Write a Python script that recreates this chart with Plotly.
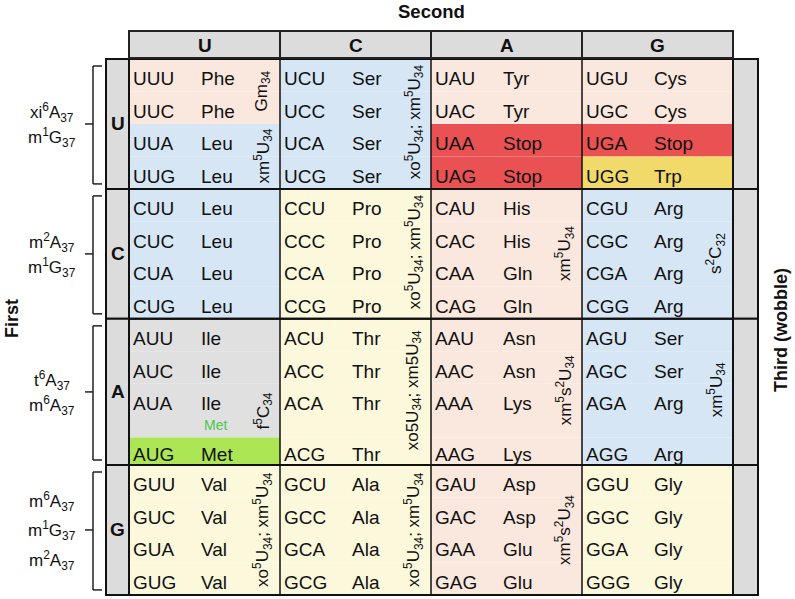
import plotly.graph_objects as go

# ---------------- data ----------------
BASES = ["U", "C", "A", "G"]

# amino acids: AMINO[first][third][second]
AMINO = [
    [["Phe", "Ser", "Tyr", "Cys"], ["Phe", "Ser", "Tyr", "Cys"],
     ["Leu", "Ser", "Stop", "Stop"], ["Leu", "Ser", "Stop", "Trp"]],
    [["Leu", "Pro", "His", "Arg"], ["Leu", "Pro", "His", "Arg"],
     ["Leu", "Pro", "Gln", "Arg"], ["Leu", "Pro", "Gln", "Arg"]],
    [["Ile", "Thr", "Asn", "Ser"], ["Ile", "Thr", "Asn", "Ser"],
     ["Ile", "Thr", "Lys", "Arg"], ["Met", "Thr", "Lys", "Arg"]],
    [["Val", "Ala", "Asp", "Gly"], ["Val", "Ala", "Asp", "Gly"],
     ["Val", "Ala", "Glu", "Gly"], ["Val", "Ala", "Glu", "Gly"]],
]

# cell colour categories: CELL_CAT[first][third][second]
CELL_CAT = [
    [["peach", "blue", "peach", "peach"], ["peach", "blue", "peach", "peach"],
     ["blue", "blue", "red", "red"], ["blue", "blue", "red", "yellow"]],
    [["blue", "cream", "peach", "blue"]] * 4,
    [["grey", "cream", "peach", "blue"]] * 3 + [["green", "cream", "peach", "blue"]],
    [["cream", "cream", "peach", "cream"]] * 4,
]

# tRNA modifications at position 37 (left side), per first base
LEFT_MODS = [
    ["xi<sup>6</sup>A<sub>37</sub>", "m<sup>1</sup>G<sub>37</sub>"],
    ["m<sup>2</sup>A<sub>37</sub>", "m<sup>1</sup>G<sub>37</sub>"],
    ["t<sup>6</sup>A<sub>37</sub>", "m<sup>6</sup>A<sub>37</sub>"],
    ["m<sup>6</sup>A<sub>37</sub>", "m<sup>1</sup>G<sub>37</sub>", "m<sup>2</sup>A<sub>37</sub>"],
]

XO_XM = "xo<sup>5</sup>U<sub>34</sub>; xm<sup>5</sup>U<sub>34</sub>"
XM5U = "xm<sup>5</sup>U<sub>34</sub>"
XM5S2U = "xm<sup>5</sup>s<sup>2</sup>U<sub>34</sub>"
# wobble modifications inside boxes: (first, second, label, vertical position in row units)
BOX_MODS = [
    (0, 0, "Gm<sub>34</sub>", 1.0),
    (0, 0, XM5U, 3.0),
    (0, 1, XO_XM, 1.95),
    (1, 1, XO_XM, 5.95),
    (1, 2, XM5U, 6.0),
    (1, 3, "s<sup>2</sup>C<sub>32</sub>", 6.0),
    (2, 0, "f<sup>5</sup>C<sub>34</sub>", 10.85),
    (2, 1, "xo5U<sub>34</sub>; xm5U<sub>34</sub>", 10.2),
    (2, 2, XM5S2U, 10.2),
    (2, 3, XM5U, 10.2),
    (3, 0, XO_XM, 14.5),
    (3, 1, XO_XM, 14.5),
    (3, 2, XM5S2U, 14.5),
]

COLORS = {
    "peach": "#fae8de",
    "blue": "#d6e6f4",
    "cream": "#fbf8dc",
    "grey": "#e0e0e0",
    "red": "#e95152",
    "yellow": "#f1da6a",
    "green": "#ade655",
}
HEAD_GREY = "#dcdcdc"

# ---------------- layout geometry (page pixels) ----------------
X_GRID = 129.0
COL_W = 151.0
X_LEFTCOL = 106.0
X_RIGHTCOL = 758.0
Y_HEAD = 31.0
Y0 = 59.0
UNIT = 32.48
ROW_H = [[1, 1, 1, 1], [1, 1, 1, 1], [1, 1, 1.65, 0.85], [1, 1, 1, 1]]
FONT = "Liberation Sans, Arial, sans-serif"
FS = 19


def ypx(u):
    return Y0 + u * UNIT


row_tops = []
block_edges = []
u = 0.0
for b in range(4):
    tops = []
    start = u
    for h in ROW_H[b]:
        tops.append((u, h))
        u += h
    row_tops.append(tops)
    block_edges.append((start, u))

X_RIGHT = X_GRID + 4 * COL_W

shapes = []
# cell fills
for f in range(4):
    for t in range(4):
        top, h = row_tops[f][t]
        for s in range(4):
            shapes.append(dict(type="rect", xref="x", yref="y",
                               x0=X_GRID + s * COL_W, x1=X_GRID + (s + 1) * COL_W,
                               y0=ypx(top), y1=ypx(top + h),
                               fillcolor=COLORS[CELL_CAT[f][t][s]],
                               line=dict(width=0), layer="below"))
# column separators
for f in range(4):
    b0, b1 = block_edges[f]
    for s in range(1, 4):
        xs = X_GRID + s * COL_W
        shapes.append(dict(type="line", xref="x", yref="y", x0=xs, x1=xs,
                           y0=ypx(b0), y1=ypx(b1), line=dict(color="#111", width=1.5)))
# block outlines + side cells
for f in range(4):
    b0, b1 = block_edges[f]
    shapes.append(dict(type="rect", xref="x", yref="y", x0=X_LEFTCOL, x1=X_GRID,
                       y0=ypx(b0), y1=ypx(b1), fillcolor=HEAD_GREY,
                       line=dict(color="#111", width=2)))
    shapes.append(dict(type="rect", xref="x", yref="y", x0=X_RIGHT, x1=X_RIGHTCOL,
                       y0=ypx(b0), y1=ypx(b1), fillcolor=HEAD_GREY,
                       line=dict(color="#111", width=2)))
    shapes.append(dict(type="rect", xref="x", yref="y", x0=X_GRID, x1=X_RIGHT,
                       y0=ypx(b0), y1=ypx(b1), line=dict(color="#111", width=2)))
# header cells
for s in range(4):
    shapes.append(dict(type="rect", xref="x", yref="y",
                       x0=X_GRID + s * COL_W, x1=X_GRID + (s + 1) * COL_W,
                       y0=Y_HEAD, y1=Y0 - 1, fillcolor=HEAD_GREY,
                       line=dict(color="#222", width=2)))
# brackets
BX = 93.0
for f in range(4):
    b0, b1 = block_edges[f]
    top, bot = ypx(b0) + 7, ypx(b1) - 5
    mid = (ypx(b0) + ypx(b1)) / 2
    ln = dict(color="#222", width=1.5)
    shapes += [
        dict(type="line", xref="x", yref="y", x0=BX, x1=BX, y0=top, y1=bot, line=ln),
        dict(type="line", xref="x", yref="y", x0=BX, x1=BX + 9, y0=top, y1=top, line=ln),
        dict(type="line", xref="x", yref="y", x0=BX, x1=BX + 9, y0=bot, y1=bot, line=ln),
        dict(type="line", xref="x", yref="y", x0=BX - 8, x1=BX, y0=mid, y1=mid, line=ln),
    ]

fig = go.Figure()

# codon and amino-acid text
cx, cy, ct, ax_, at = [], [], [], [], []
rx, ry, rt = [], [], []
for f in range(4):
    for t in range(4):
        top, h = row_tops[f][t]
        yc = ypx(top + 0.62 * min(h, 1.0)) + 1.5
        for s in range(4):
            cx.append(X_GRID + s * COL_W + 4)
            cy.append(yc)
            ct.append(BASES[f] + BASES[s] + BASES[t])
            ax_.append(X_GRID + s * COL_W + 72)
            at.append(AMINO[f][t][s])
        rx.append((X_RIGHT + X_RIGHTCOL) / 2 + 1)
        ry.append(yc)
        rt.append("<b>" + BASES[t] + "</b>")

fig.add_trace(go.Scatter(x=cx, y=cy, text=ct, mode="text", textposition="middle right",
                         textfont=dict(family=FONT, size=FS, color="#111"), hoverinfo="skip"))
fig.add_trace(go.Scatter(x=ax_, y=cy, text=at, mode="text", textposition="middle right",
                         textfont=dict(family=FONT, size=FS, color="#111"), hoverinfo="skip"))
fig.add_trace(go.Scatter(x=rx, y=ry, text=rt, mode="text", textposition="middle center",
                         textfont=dict(family=FONT, size=FS, color="#111"), hoverinfo="skip"))

annotations = []
# header letters
for s in range(4):
    annotations.append(dict(x=X_GRID + (s + 0.5) * COL_W, y=(Y_HEAD + Y0) / 2, xref="x", yref="y",
                            text="<b>" + BASES[s] + "</b>", showarrow=False,
                            font=dict(family=FONT, size=FS, color="#111")))
# left block letters and left mods
for f in range(4):
    b0, b1 = block_edges[f]
    mid = (ypx(b0) + ypx(b1)) / 2
    annotations.append(dict(x=(X_LEFTCOL + X_GRID) / 2, y=mid, xref="x", yref="y",
                            text="<b>" + BASES[f] + "</b>", showarrow=False,
                            font=dict(family=FONT, size=FS, color="#111")))
    n = len(LEFT_MODS[f])
    sp = 25 if n == 2 else 29.5
    for i, lab in enumerate(LEFT_MODS[f]):
        annotations.append(dict(x=52, y=mid + 1 + (i - (n - 1) / 2) * sp, xref="x", yref="y",
                                text=lab, showarrow=False,
                                font=dict(family=FONT, size=17, color="#111")))
# in-box modifications
for f, s, lab, uy in BOX_MODS:
    annotations.append(dict(x=X_GRID + s * COL_W + 134, y=ypx(uy), xref="x", yref="y",
                            text=lab, textangle=-90, showarrow=False,
                            font=dict(family=FONT, size=17, color="#111")))
# small Met in AUA box
top, h = row_tops[2][2]
annotations.append(dict(x=X_GRID + 86, y=ypx(top + 1.28), xref="x", yref="y", text="Met",
                        showarrow=False, font=dict(family=FONT, size=14, color="#4cc84c")))
# axis titles
annotations.append(dict(x=X_GRID + 2 * COL_W, y=11, xref="x", yref="y", text="<b>Second</b>",
                        showarrow=False, font=dict(family=FONT, size=18.5, color="#111")))
annotations.append(dict(x=12, y=319, xref="x", yref="y", text="<b>First</b>", textangle=-90,
                        showarrow=False, font=dict(family=FONT, size=18, color="#111")))
annotations.append(dict(x=781, y=330, xref="x", yref="y", text="<b>Third (wobble)</b>",
                        textangle=-90, showarrow=False,
                        font=dict(family=FONT, size=18, color="#111")))

fig.update_layout(
    width=795, height=599,
    margin=dict(l=0, r=0, t=0, b=0),
    paper_bgcolor="white", plot_bgcolor="white",
    showlegend=False,
    shapes=shapes, annotations=annotations,
    xaxis=dict(range=[0, 795], visible=False, fixedrange=True),
    yaxis=dict(range=[599, 0], visible=False, fixedrange=True),
)
fig.write_html("out.html", config={"displayModeBar": False},
               post_script="document.body.style.margin='0';document.body.style.overflow='hidden';")
